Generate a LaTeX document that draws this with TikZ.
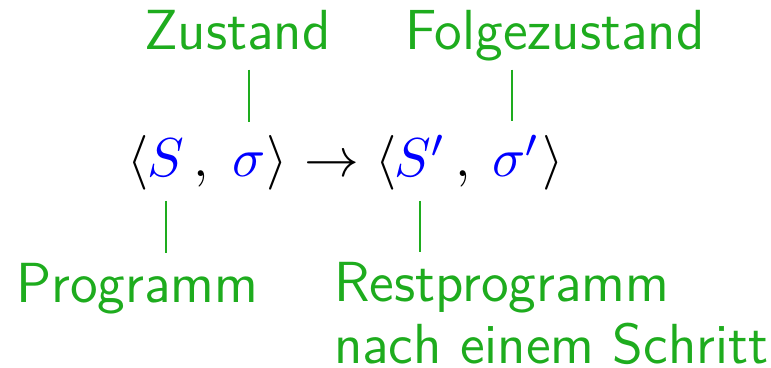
\documentclass[tikz,border=0pt]{standalone}
\usepackage{xcolor}
\usepackage{tikz}
\usetikzlibrary{positioning,calc}

\definecolor{notegreen}{RGB}{30,172,30}
\definecolor{symblue}{RGB}{0,0,255}

\begin{document}
\begin{tikzpicture}[
    x=0.2pt, y=-0.2pt,
    note/.style={text=notegreen, font=\sffamily\fontsize{11.3}{12.4}\selectfont, inner sep=0pt, anchor=base west, align=left},
    sym/.style={inner sep=0pt, anchor=base, font=\fontsize{11.2}{13}\selectfont},
    pointer/.style={draw=notegreen, line width=0.35pt}
  ]
    \useasboundingbox (0,0) rectangle (771,368);

    % labels above and below
    \node[note] (zus) at (143,50) {Zustand};
    \node[note] (fzus) at (404,50) {Folgezustand};
    \node[note] (prog) at (15,303) {Programm};
    \node[note] (rest) at (333,364) {Restprogramm\\nach einem Schritt};

    % the transition
    \node[sym] (la1) at (138,177) {$\langle$};
    \node[sym] (s) at (166,177) {$\color{symblue}S$};
    \node[sym] (c1) at (201,177) {$,$};
    \node[sym] (sig) at (249,177) {$\color{symblue}\sigma$};
    \node[sym] (ra1) at (277,177) {$\rangle$};
    \node[sym] (arr) at (332,177) {$\to$};
    \node[sym] (la2) at (386,177) {$\langle$};
    \node[sym] (s2) at (420,177) {$\color{symblue}S'$};
    \node[sym] (c2) at (463,177) {$,$};
    \node[sym] (sig2) at (516,177) {$\color{symblue}\sigma'$};
    \node[sym] (ra2) at (553,177) {$\rangle$};

    \draw[pointer, shorten <=3.6pt, shorten >=6pt] (sig.north |- zus.south) -- (sig.north);
    \draw[pointer, shorten <=1.4pt, shorten >=2.6pt] ([xshift=-0.8pt]sig2.north |- fzus.south) -- ([xshift=-0.8pt]sig2.north);
    \draw[pointer, shorten <=4.6pt, shorten >=2pt] (s.south) -- (s.south |- prog.north);
    \draw[pointer, shorten <=4.6pt, shorten >=2pt] (s2.south) -- (s2.south |- rest.north);
  \end{tikzpicture}
\end{document}
